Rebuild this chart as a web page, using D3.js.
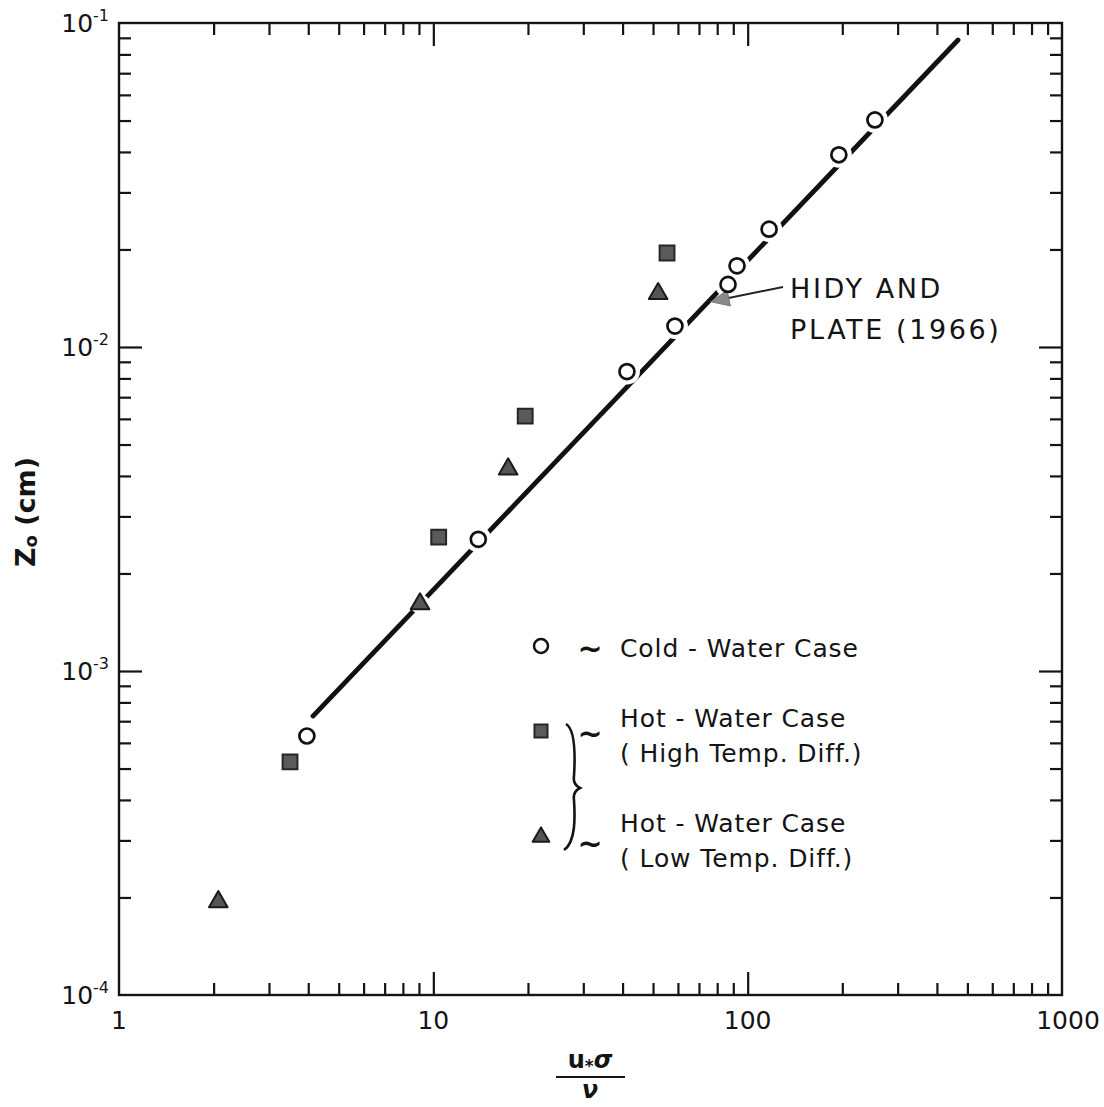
<!DOCTYPE html>
<html>
<head>
<meta charset="utf-8">
<script src="https://cdn.jsdelivr.net/npm/d3@7"></script>
<style>
  html, body { margin: 0; padding: 0; background: #fff; }
  svg { display: block; }
  text { font-family: "DejaVu Sans", "Liberation Sans", sans-serif; fill: #141414; }
</style>
</head>
<body>
<svg id="chart" width="1104" height="1107"></svg>
<script>
// Roughness length z0 against roughness Reynolds number u*σ/ν
const coldX = [3.96, 13.9, 41.3, 58.7, 86.6, 92.5, 117, 195, 254];
const coldY = [6.3e-4, 2.55e-3, 8.4e-3, 0.0116, 0.0156, 0.0178, 0.0231, 0.0392, 0.0502];

const hotHighX = [3.5, 10.4, 19.6, 55.4];
const hotHighY = [5.24e-4, 2.59e-3, 6.12e-3, 0.0195];

const hotLowX = [2.07, 9.07, 17.3, 51.9];
const hotLowY = [1.94e-4, 1.61e-3, 4.2e-3, 0.0146];

// Hidy and Plate (1966) reference value
const hidyX = [76.5];
const hidyY = [0.0138];

// Fitted straight line (end points)
const fitX = [4.14, 467];
const fitY = [7.26e-4, 0.0886];

const xTickValues = [1, 10, 100, 1000];
const xTickLabels = ["1", "10", "100", "1000"];
const yTickValues = [1e-4, 1e-3, 1e-2, 1e-1];
const yTickExponents = ["-4", "-3", "-2", "-1"];

const legendLabels = [
  ["Cold - Water Case"],
  ["Hot - Water Case", "( High  Temp. Diff.)"],
  ["Hot - Water Case", "( Low  Temp. Diff.)"]
];

const svg = d3.select("#chart");
const mLeft = 119, mRight = 1062, mTop = 23, mBottom = 995;

const x = d3.scaleLog().domain([1, 1000]).range([mLeft, mRight]);
const y = d3.scaleLog().domain([1e-4, 1e-1]).range([mBottom, mTop]);

// minor ticks 2..9 of each decade, major ticks at decades
const xMinor = [], yMinor = [];
for (let d = 1; d < 1000; d *= 10) for (let k = 2; k <= 9; k++) xMinor.push(d * k);
for (let d = 1e-4; d < 0.09; d *= 10) for (let k = 2; k <= 9; k++) yMinor.push(d * k);
const xMajor = [10, 100];
const yMajor = [1e-3, 1e-2];

function styleAxis(g) {
  g.select(".domain").remove();
  g.selectAll("line").attr("stroke", "#141414").attr("stroke-width", 2.2);
  g.selectAll("text").remove();
}
const minorLen = 12, majorLen = 23;
[[xMinor, minorLen], [xMajor, majorLen]].forEach(([vals, len]) => {
  svg.append("g").attr("transform", `translate(0,${mBottom})`)
    .call(d3.axisBottom(x).tickValues(vals).tickSize(-len).tickSizeOuter(0)).call(styleAxis);
  svg.append("g").attr("transform", `translate(0,${mTop})`)
    .call(d3.axisTop(x).tickValues(vals).tickSize(-len).tickSizeOuter(0)).call(styleAxis);
});
[[yMinor, minorLen], [yMajor, majorLen]].forEach(([vals, len]) => {
  svg.append("g").attr("transform", `translate(${mLeft},0)`)
    .call(d3.axisLeft(y).tickValues(vals).tickSize(-len).tickSizeOuter(0)).call(styleAxis);
  svg.append("g").attr("transform", `translate(${mRight},0)`)
    .call(d3.axisRight(y).tickValues(vals).tickSize(-len).tickSizeOuter(0)).call(styleAxis);
});

// frame
svg.append("rect")
  .attr("x", mLeft).attr("y", mTop)
  .attr("width", mRight - mLeft).attr("height", mBottom - mTop)
  .attr("fill", "none").attr("stroke", "#141414").attr("stroke-width", 2.4);

// x tick labels
svg.append("g").selectAll("text").data(xTickValues).join("text")
  .attr("x", (d, i) => x(d) + (i === 3 ? 6 : 0)).attr("y", 1029)
  .attr("text-anchor", "middle").attr("font-size", 25)
  .text((d, i) => xTickLabels[i]);

// y tick labels 10^n
const yl = svg.append("g").selectAll("text").data(yTickValues).join("text")
  .attr("x", 109).attr("y", d => y(d) + 9)
  .attr("text-anchor", "end").attr("font-size", 25);
yl.append("tspan").text("10");
yl.append("tspan").attr("font-size", 16).attr("dy", -11).text((d, i) => yTickExponents[i]);

// fitted line
const line = d3.line().x(d => x(d[0])).y(d => y(d[1]));
svg.append("path")
  .datum(fitX.map((v, i) => [v, fitY[i]]))
  .attr("d", line)
  .attr("fill", "none").attr("stroke", "#111").attr("stroke-width", 4.8)
  .attr("stroke-linecap", "round");

const sym = (type, size) => d3.symbol().type(type).size(size)();

// white halos break the line around the markers
function halo(xs, ys, r) {
  svg.append("g").selectAll("circle").data(xs).join("circle")
    .attr("cx", d => x(d)).attr("cy", (d, i) => y(ys[i])).attr("r", r).attr("fill", "#fff");
}
halo(coldX, coldY, 13);
halo(hotLowX, hotLowY, 10);

// Hidy and Plate leader with arrow head
const hx = x(hidyX[0]), hy = y(hidyY[0]);
svg.append("line")
  .attr("x1", 783).attr("y1", 287).attr("x2", hx + 4).attr("y2", hy - 1)
  .attr("stroke", "#222").attr("stroke-width", 2);
const ang = Math.atan2(hy - 287, hx - 783) * 180 / Math.PI;
svg.append("path")
  .attr("d", "M0,0 L-18,-8 L-18,8 Z")
  .attr("transform", `translate(${hx},${hy}) rotate(${ang})`)
  .attr("fill", "#8a8a8a").attr("stroke", "#777").attr("stroke-width", 1);

// cold-water circles
svg.append("g").selectAll("circle").data(coldX).join("circle")
  .attr("cx", d => x(d)).attr("cy", (d, i) => y(coldY[i]))
  .attr("r", 7.5).attr("fill", "#fff").attr("stroke", "#111").attr("stroke-width", 2.7);

// hot-water, high temperature difference: squares
svg.append("g").selectAll("path").data(hotHighX).join("path")
  .attr("d", sym(d3.symbolSquare, 220))
  .attr("transform", (d, i) => `translate(${x(d)},${y(hotHighY[i])})`)
  .attr("fill", "#5a5a5a").attr("stroke", "#262626").attr("stroke-width", 2);

// hot-water, low temperature difference: triangles
svg.append("g").selectAll("path").data(hotLowX).join("path")
  .attr("d", sym(d3.symbolTriangle, 150))
  .attr("transform", (d, i) => `translate(${x(d)},${y(hotLowY[i])})`)
  .attr("fill", "#555").attr("stroke", "#1a1a1a").attr("stroke-width", 2)
  .attr("stroke-linejoin", "round");

// annotation
svg.append("text").attr("x", 790).attr("y", 298).attr("font-size", 27).attr("letter-spacing", 2.6).text("HIDY  AND");
svg.append("text").attr("x", 790).attr("y", 339).attr("font-size", 27).attr("letter-spacing", 2.6).text("PLATE (1966)");

// legend
const lg = svg.append("g");
lg.append("circle").attr("cx", 541).attr("cy", 646).attr("r", 7)
  .attr("fill", "#fff").attr("stroke", "#111").attr("stroke-width", 2.5);
lg.append("path").attr("d", sym(d3.symbolSquare, 170)).attr("transform", "translate(541,731)")
  .attr("fill", "#5a5a5a").attr("stroke", "#262626").attr("stroke-width", 2);
lg.append("path").attr("d", sym(d3.symbolTriangle, 120)).attr("transform", "translate(541,837)")
  .attr("fill", "#555").attr("stroke", "#1a1a1a").attr("stroke-width", 2).attr("stroke-linejoin", "round");
// brace joining the two hot-water entries
lg.append("path")
  .attr("d", "M566,724 C576,730 575,760 574,776 C573,782 576,786 580,788 C576,790 573,794 574,800 C575,816 576,842 564,850")
  .attr("fill", "none").attr("stroke", "#141414").attr("stroke-width", 2.6);
[[590, 659], [590, 744], [590, 854]].forEach(([tx, ty]) =>
  lg.append("text").attr("x", tx).attr("y", ty).attr("font-size", 30).attr("font-weight", "bold")
    .attr("text-anchor", "middle").text("~"));
const textRows = [[657, 0, 0], [727, 1, 0], [762, 1, 1], [832, 2, 0], [867, 2, 1]];
textRows.forEach(([ty, a, b]) =>
  lg.append("text").attr("x", 620).attr("y", ty).attr("font-size", 25).attr("letter-spacing", 0.9)
    .text(legendLabels[a][b]));

// axis titles
const yt = svg.append("text").attr("transform", "translate(35,512) rotate(-90)")
  .attr("text-anchor", "middle").attr("font-size", 27).attr("font-weight", "bold");
yt.append("tspan").text("Z");
yt.append("tspan").attr("font-size", 18).attr("dy", 2).text("o");
yt.append("tspan").attr("dy", -2).text(" (cm)");

svg.append("text").attr("x", 590).attr("y", 1068).attr("text-anchor", "middle")
  .attr("font-size", 24).attr("font-weight", "bold")
  .html('u<tspan font-size="17" dy="4">*</tspan><tspan dy="-4" font-style="italic">σ</tspan>');
svg.append("line").attr("x1", 556).attr("x2", 625).attr("y1", 1077).attr("y2", 1077)
  .attr("stroke", "#141414").attr("stroke-width", 2);
svg.append("text").attr("x", 590).attr("y", 1098).attr("text-anchor", "middle")
  .attr("font-size", 24).attr("font-weight", "bold").attr("font-style", "italic").text("ν");
</script>
</body>
</html>
